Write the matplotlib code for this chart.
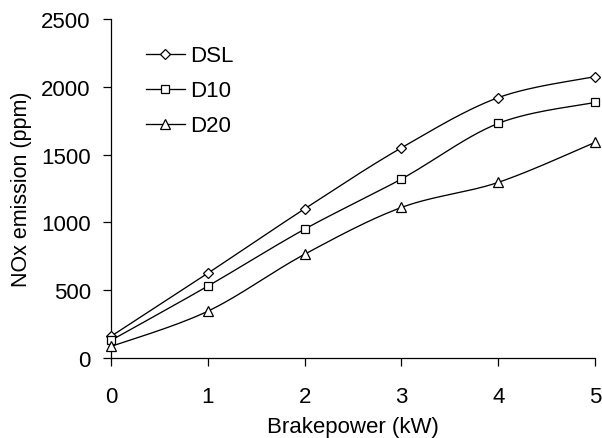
import numpy as np
import matplotlib
matplotlib.use("Agg")
import matplotlib.pyplot as plt
from matplotlib.lines import Line2D

plt.rcParams['font.family'] = ['Liberation Sans', 'DejaVu Sans']

brakepower = [0, 1, 2, 3, 4, 5]
dsl = [160, 625, 1100, 1550, 1920, 2075]
d10 = [130, 530, 950, 1320, 1730, 1885]
d20 = [85, 345, 765, 1110, 1295, 1590]

series = [("DSL", dsl, "D", 5.0), ("D10", d10, "s", 5.5), ("D20", d20, "^", 6.5)]


def smooth(xs, ys, n=30):
    P = np.column_stack([xs, ys]).astype(float)
    Pe = np.vstack([P[0], P, P[-1]])
    out = []
    for i in range(len(P) - 1):
        p0, p1, p2, p3 = Pe[i], Pe[i + 1], Pe[i + 2], Pe[i + 3]
        c1 = p1 + (p2 - p0) / 6.0
        c2 = p2 - (p3 - p1) / 6.0
        t = np.linspace(0, 1, n)[:, None]
        seg = ((1 - t) ** 3) * p1 + 3 * ((1 - t) ** 2) * t * c1 + 3 * (1 - t) * t ** 2 * c2 + t ** 3 * p2
        out.append(seg if i == 0 else seg[1:])
    S = np.vstack(out)
    return S[:, 0], S[:, 1]


fig = plt.figure(figsize=(6.02, 4.39), dpi=100)
ax = fig.add_axes([111 / 602, 1 - 359 / 439, (595 - 111) / 602, (359 - 20) / 439])

handles = []
for name, vals, mk, ms in series:
    sx, sy = smooth(brakepower, vals)
    ax.plot(sx, sy, color="black", lw=0.95, zorder=2, clip_on=False)
    ax.plot(brakepower, vals, linestyle="none", marker=mk, ms=ms, mfc="white",
            mec="black", mew=0.9, zorder=3, clip_on=False)
    handles.append(Line2D([], [], color="black", lw=0.95, marker=mk, ms=ms,
                          mfc="white", mec="black", mew=0.9, label=name))

ax.set_xlim(0, 5)
ax.set_ylim(0, 2500)
ax.set_xticks(range(0, 6))
ax.set_yticks(range(0, 2501, 500))
for s in ["top", "right"]:
    ax.spines[s].set_visible(False)
for s in ["left", "bottom"]:
    ax.spines[s].set_linewidth(0.9)
ax.tick_params(axis="both", direction="out", length=5.5, width=0.9, labelsize=16)
ax.tick_params(axis="y", pad=9)
ax.tick_params(axis="x", pad=14.5)

ax.set_xlabel("Brakepower (kW)", fontsize=16, labelpad=7)
ax.set_ylabel("NOx emission (ppm)", fontsize=15.5, labelpad=7)

leg = ax.legend(handles=handles, loc="upper left", frameon=False, fontsize=16,
                handlelength=1.75, handletextpad=0.25, labelspacing=0.63,
                borderpad=0, borderaxespad=0,
                bbox_to_anchor=(0.072, 0.922))

fig.savefig("out.png", dpi=100)
